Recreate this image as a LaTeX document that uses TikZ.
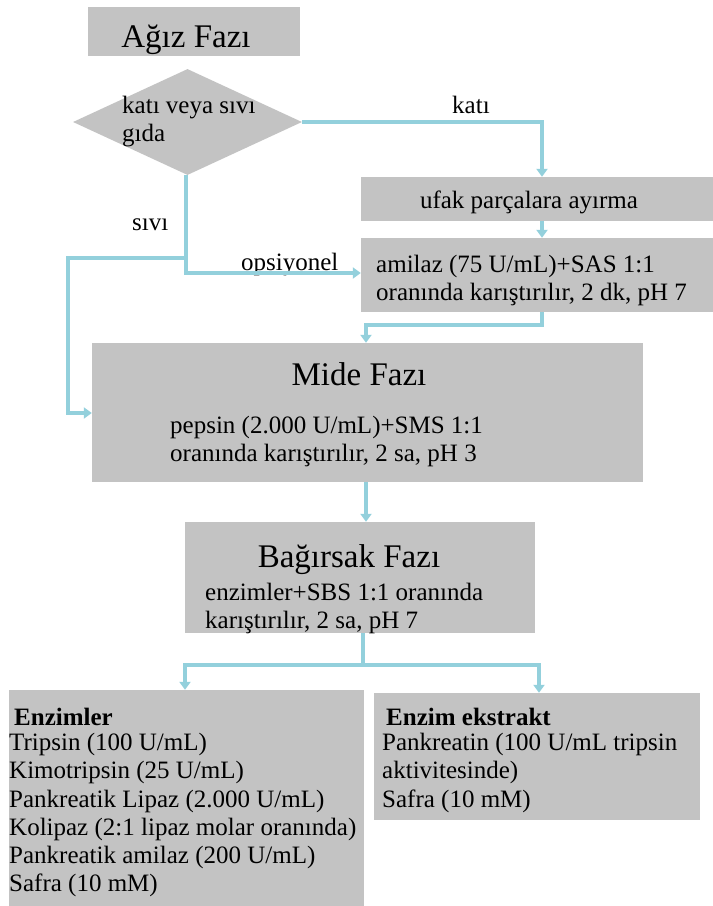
\documentclass[tikz,border=0pt]{standalone}
\usepackage{fontspec}
\setmainfont{Liberation Serif}
\usetikzlibrary{shapes.geometric,arrows.meta}
\definecolor{boxgray}{HTML}{C3C3C3}
\definecolor{linkblue}{HTML}{93D0DC}
\tikzset{
  x=1pt,y=-1pt,
  graybox/.style={fill=boxgray,draw=none,inner sep=0pt,rectangle},
  decision/.style={fill=boxgray,draw=none,inner sep=0pt,diamond},
  title/.style={inner sep=0pt,font=\fontsize{33}{40}\selectfont},
  body/.style={inner sep=0pt,font=\fontsize{25}{28}\selectfont},
  link/.style={draw=linkblue,line width=3.4pt,-{Triangle[width=11pt,length=8pt]},line join=miter},
  plainlink/.style={draw=linkblue,line width=3.4pt},
}
\begin{document}
\begin{tikzpicture}
\useasboundingbox (0,0) rectangle (713,906);
% boxes
\node[graybox,minimum width=212pt,minimum height=49pt] (agiz) at (194,31.5) {};
\node[decision,minimum width=229pt,minimum height=106pt] (dec) at (187.5,122) {};
\node[graybox,minimum width=352pt,minimum height=44pt] (ufak) at (537,199) {};
\node[graybox,minimum width=352pt,minimum height=74pt] (amil) at (537,275) {};
\node[graybox,minimum width=551pt,minimum height=139pt] (mide) at (367.5,412.5) {};
\node[graybox,minimum width=350pt,minimum height=111pt] (bag) at (360,577.5) {};
\node[graybox,minimum width=355pt,minimum height=216pt] (enz) at (186.5,798) {};
\node[graybox,minimum width=326pt,minimum height=127pt] (ekst) at (537,756.5) {};
% texts
\node[title,anchor=base] (agizt) at (186,47) {Ağız Fazı};
\node[body,anchor=base west] (dect1) at (122,113) {katı veya sıvı};
\node[body,anchor=base west] (dect2) at (122,141) {gıda};
\node[body,anchor=base west] (katil) at (452,113) {katı};
\node[body,anchor=base] (ufakt) at (529,208) {ufak parçalara ayırma};
\node[body,anchor=base west] (sivil) at (132,230) {sıvı};
\node[body,anchor=base west] (opsl) at (241,270) {opsiyonel};
\node[body,anchor=base west] (amilt1) at (376,272) {amilaz (75 U/mL)+SAS 1:1};
\node[body,anchor=base west] (amilt2) at (376,300) {oranında karıştırılır, 2 dk, pH 7};
\node[title,anchor=base] (midet) at (359,385) {Mide Fazı};
\node[body,anchor=base west] (midet1) at (170,433) {pepsin (2.000 U/mL)+SMS 1:1};
\node[body,anchor=base west] (midet2) at (170,461) {oranında karıştırılır, 2 sa, pH 3};
\node[title,anchor=base] (bagt) at (349,567) {Bağırsak Fazı};
\node[body,anchor=base west] (bagt1) at (205,600) {enzimler+SBS 1:1 oranında};
\node[body,anchor=base west] (bagt2) at (205,628) {karıştırılır, 2 sa, pH 7};
\node[body,anchor=base west,font=\fontsize{25}{28}\selectfont\bfseries] (enzh) at (14,725) {Enzimler};
\node[body,anchor=base west] (enz1) at (9,750) {Tripsin (100 U/mL)};
\node[body,anchor=base west] (enz2) at (9,778) {Kimotripsin (25 U/mL)};
\node[body,anchor=base west] (enz3) at (9,807) {Pankreatik Lipaz (2.000 U/mL)};
\node[body,anchor=base west] (enz4) at (9,835) {Kolipaz (2:1 lipaz molar oranında)};
\node[body,anchor=base west] (enz5) at (9,863) {Pankreatik amilaz (200 U/mL)};
\node[body,anchor=base west] (enz6) at (9,891) {Safra (10 mM)};
\node[body,anchor=base west,font=\fontsize{25}{28}\selectfont\bfseries] (eksh) at (386,725) {Enzim ekstrakt};
\node[body,anchor=base west] (eks1) at (382,750) {Pankreatin (100 U/mL tripsin};
\node[body,anchor=base west] (eks2) at (382,778) {aktivitesinde)};
\node[body,anchor=base west] (eks3) at (382,807) {Safra (10 mM)};
% junction coordinates
\coordinate (jsivi) at (186,258);
\coordinate (jbag) at (363,665);
% connectors
\draw[link] (dec.east) -- (dec.east -| 542,0) -- (ufak.north -| 542,0);
\draw[link] (ufak.south -| 542,0) -- (amil.north -| 542,0);
\draw[link] (dec.south -| 186,0) -- (186,273) -- (amil.west |- 0,273);
\draw[link] (jsivi) -- (68,258) -- (68,413) -- (mide.west |- 0,413);
\draw[link] (amil.south -| 542,0) -- (542,325) -- (366,325) -- (mide.north -| 366,0);
\draw[link] (mide.south -| 366,0) -- (bag.north -| 366,0);
\draw[plainlink] (bag.south -| 363,0) -- (jbag);
\draw[link] (jbag) -- (185,665) -- (enz.north -| 185,0);
\draw[link] (jbag) -- (539,665) -- (ekst.north -| 539,0);
\end{tikzpicture}
\end{document}
